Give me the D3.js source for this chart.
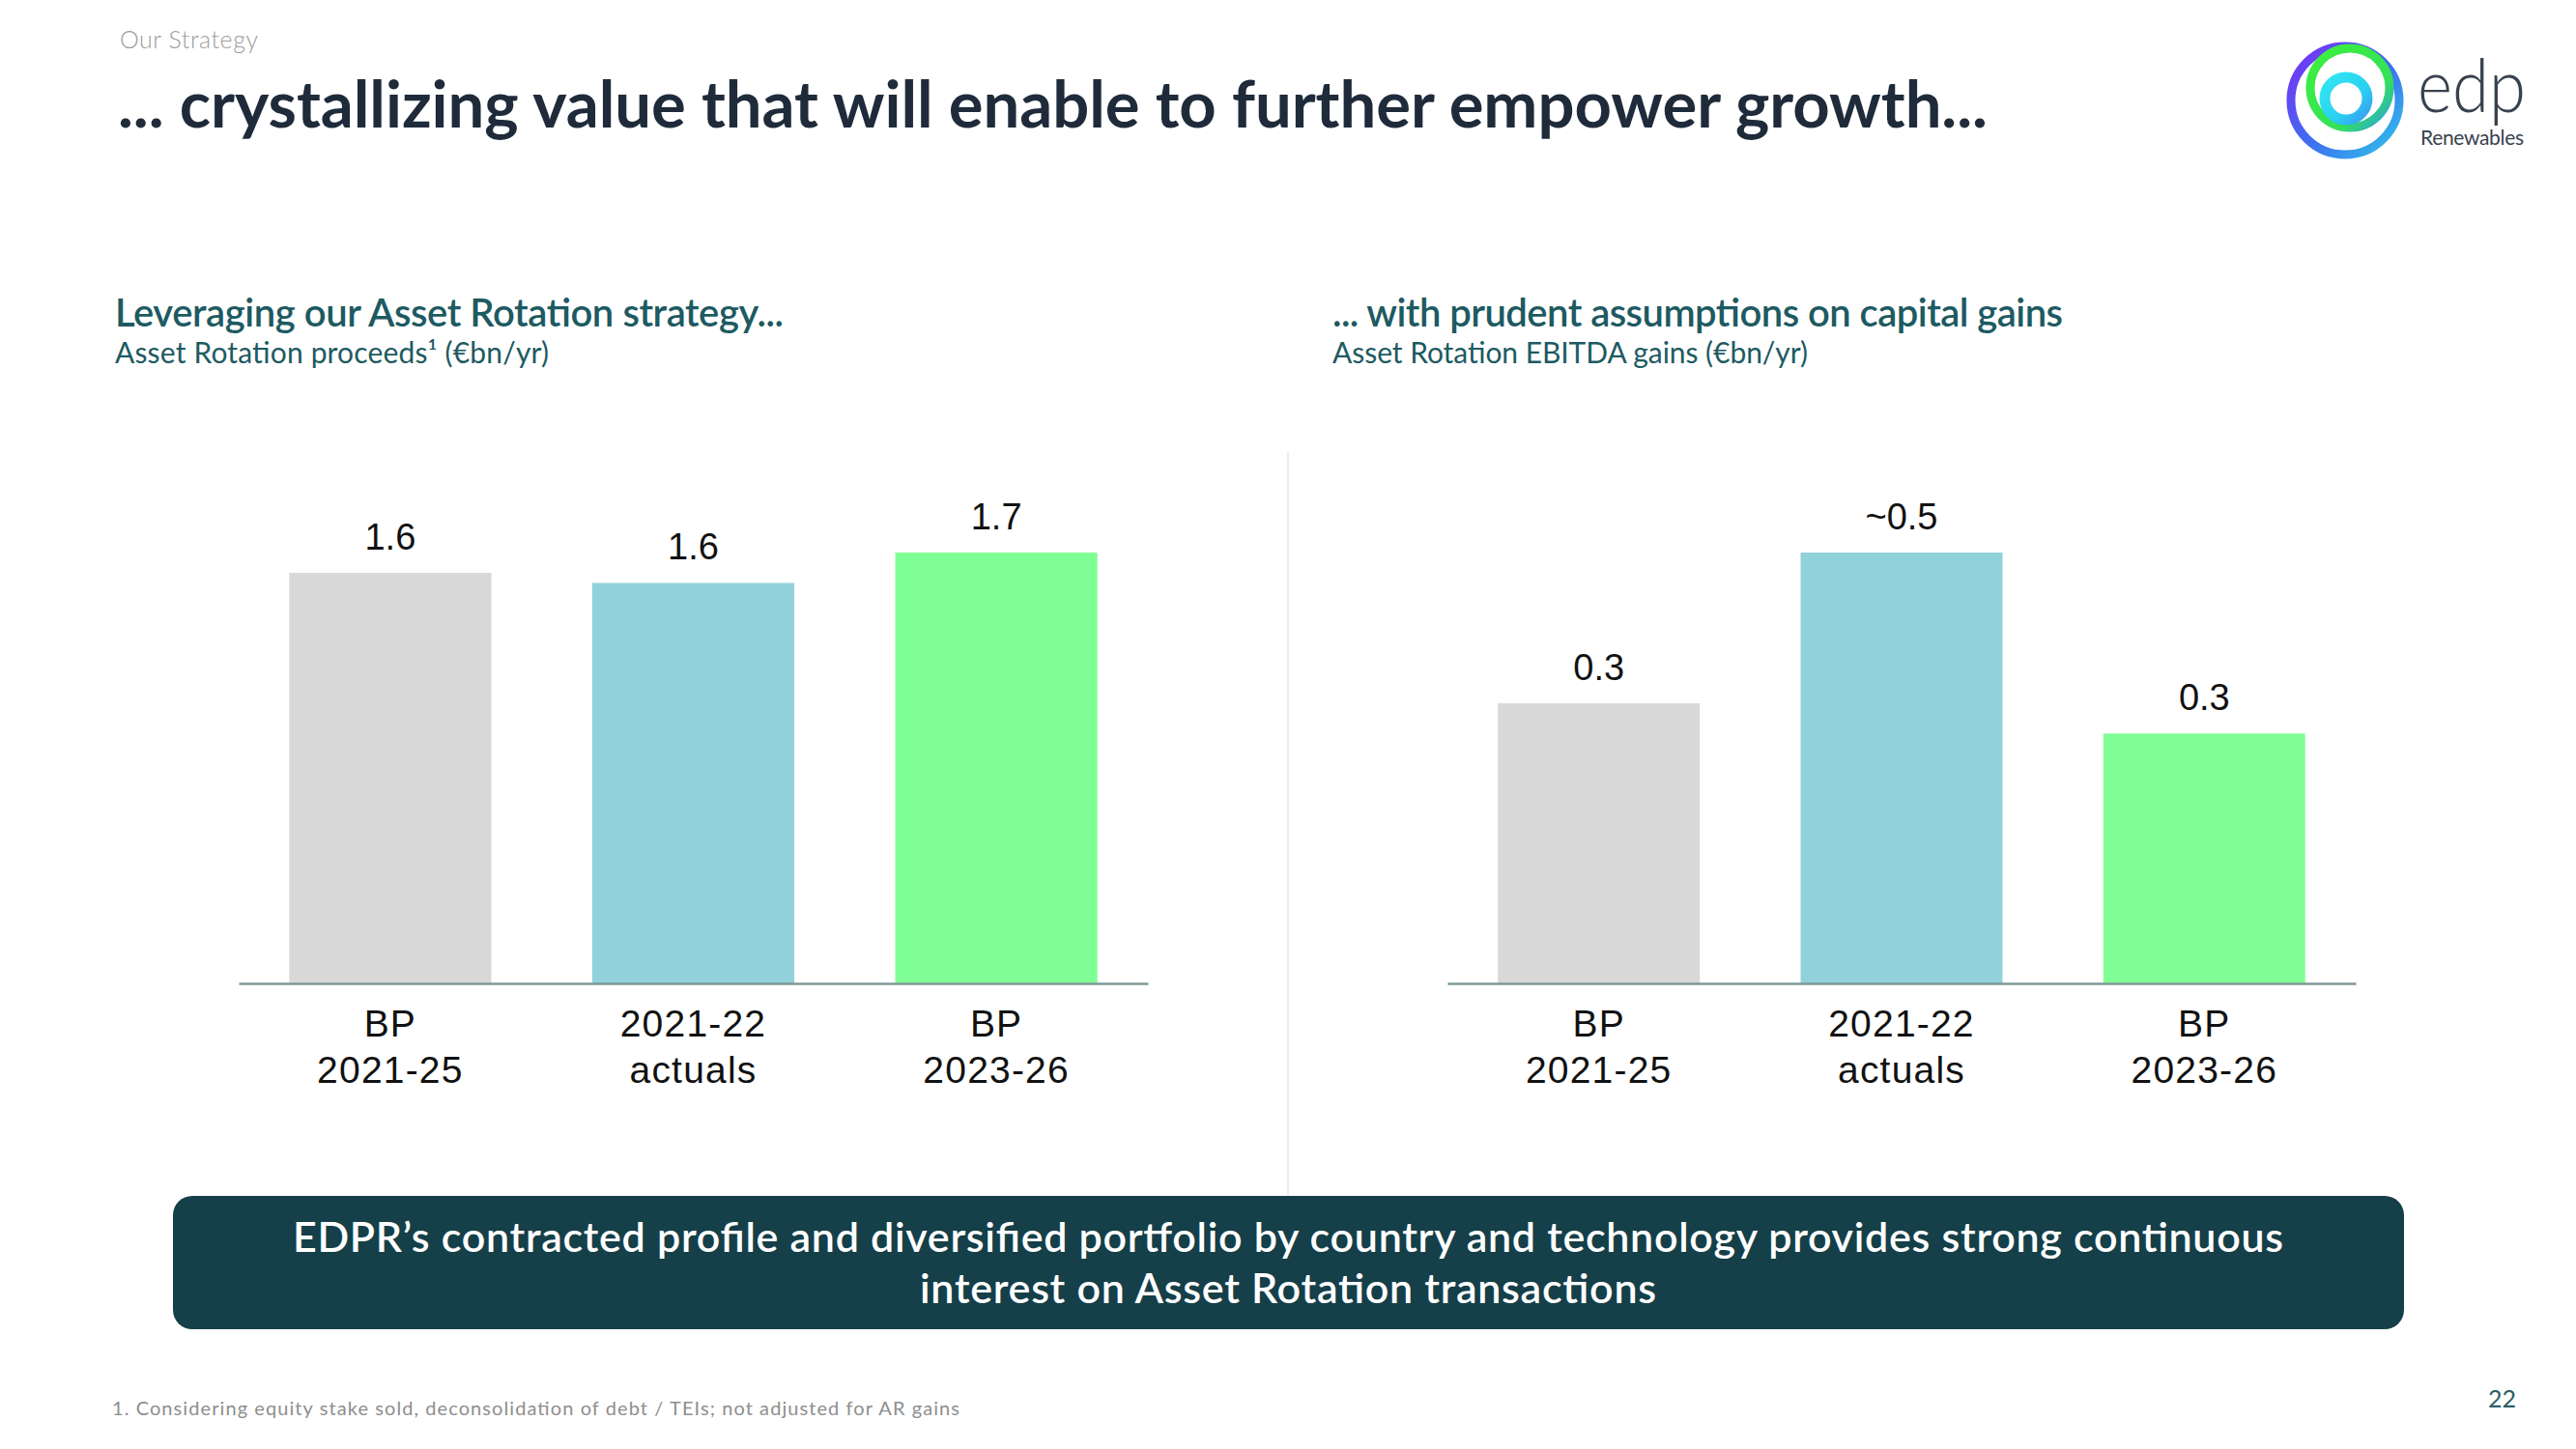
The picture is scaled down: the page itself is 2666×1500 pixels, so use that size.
<!DOCTYPE html>
<html>
<head>
<meta charset="utf-8">
<script src="https://cdn.jsdelivr.net/npm/d3@7"></script>
<style>
  html, body { margin: 0; padding: 0; background: #ffffff; }
  svg { display: block; }
</style>
</head>
<body>
<svg id="chart" width="2666" height="1500"></svg>
<script>
// ---------- DATA ----------
const categories = [["BP", "2021-25"], ["2021-22", "actuals"], ["BP", "2023-26"]];
const categoryKeys = ["bp2125", "actuals", "bp2326"];
const proceedsValues = [1.62, 1.58, 1.70];
const proceedsLabels = ["1.6", "1.6", "1.7"];
const gainsValues = [0.325, 0.50, 0.29];
const gainsLabels = ["0.3", "~0.5", "0.3"];
const barColors = ["#d8d8d8", "#91d1da", "#80ff96"];

const pageTitle = "... crystallizing value that will enable to further empower growth...";
const sectionLabel = "Our Strategy";
const leftHeading = "Leveraging our Asset Rotation strategy...";
const leftSub = "Asset Rotation proceeds\u00b9 (\u20acbn/yr)";
const rightHeading = "... with prudent assumptions on capital gains";
const rightSub = "Asset Rotation EBITDA gains (\u20acbn/yr)";
const bannerLines = [
  "EDPR\u2019s contracted profile and diversified portfolio by country and technology provides strong continuous",
  "interest on Asset Rotation transactions"
];
const footnote = "1. Considering equity stake sold, deconsolidation of debt / TEIs; not adjusted for AR gains";
const pageNumber = "22";

// ---------- DRAW ----------
const svg = d3.select("#chart");
const HEAD = "Lato, 'Noto Sans', sans-serif";
const NUM = "'Liberation Sans', Arial, sans-serif";

// header
svg.append("text").attr("x", 124).attr("y", 50)
  .attr("font-family", HEAD).attr("font-weight", 300).attr("font-size", 25)
  .attr("fill", "#9c9c9c").attr("textLength", 143).attr("lengthAdjust", "spacing")
  .text(sectionLabel);

svg.append("text").attr("x", 122).attr("y", 132)
  .attr("font-family", HEAD).attr("font-weight", 700).attr("font-size", 67)
  .attr("fill", "#1f2b3a").attr("textLength", 1935).attr("lengthAdjust", "spacing")
  .text(pageTitle);

// logo
const defs = svg.append("defs");
function grad(id, stops, x1, y1, x2, y2) {
  const g = defs.append("linearGradient").attr("id", id)
    .attr("x1", x1).attr("y1", y1).attr("x2", x2).attr("y2", y2);
  stops.forEach(s => g.append("stop").attr("offset", s[0]).attr("stop-color", s[1]));
}
grad("gOuter", [[0, "#7a2ff5"], [0.55, "#3d6ff0"], [1, "#2ec8e8"]], "0", "0", "1", "1");
grad("gGreen", [[0, "#3ef03c"], [0.7, "#33e05a"], [1, "#2a9cf0"]], "0", "0", "1", "1");
grad("gInner", [[0, "#30e8f0"], [0.6, "#2ad0f2"], [1, "#3a9cf0"]], "0", "0", "1", "1");
const logo = svg.append("g");
logo.append("circle").attr("cx", 2427).attr("cy", 104).attr("r", 56)
  .attr("fill", "none").attr("stroke", "url(#gOuter)").attr("stroke-width", 9);
logo.append("circle").attr("cx", 2432).attr("cy", 91).attr("r", 41)
  .attr("fill", "none").attr("stroke", "url(#gGreen)").attr("stroke-width", 9);
logo.append("circle").attr("cx", 2428).attr("cy", 102).attr("r", 22)
  .attr("fill", "none").attr("stroke", "url(#gInner)").attr("stroke-width", 11);
svg.append("text").attr("x", 2502).attr("y", 116)
  .attr("font-family", HEAD).attr("font-weight", 300).attr("font-size", 76)
  .attr("fill", "#38424e").attr("textLength", 112).attr("lengthAdjust", "spacingAndGlyphs")
  .text("edp");
svg.append("text").attr("x", 2505).attr("y", 150)
  .attr("font-family", HEAD).attr("font-weight", 400).attr("font-size", 21)
  .attr("fill", "#38424e").attr("textLength", 107).attr("lengthAdjust", "spacing")
  .text("Renewables");

// section headings
function heading(x, title, sub, tLen, sLen) {
  svg.append("text").attr("x", x).attr("y", 338)
    .attr("font-family", HEAD).attr("font-weight", 600).attr("font-size", 40)
    .attr("fill", "#1d5a62").attr("textLength", tLen).attr("lengthAdjust", "spacing")
    .text(title);
  svg.append("text").attr("x", x).attr("y", 376)
    .attr("font-family", HEAD).attr("font-weight", 400).attr("font-size", 30)
    .attr("fill", "#1d5a62").attr("textLength", sLen).attr("lengthAdjust", "spacing")
    .text(sub);
}
heading(119, leftHeading, leftSub, 692, 449);
heading(1379, rightHeading, rightSub, 756, 492);

// divider
svg.append("line").attr("x1", 1333).attr("x2", 1333).attr("y1", 468).attr("y2", 1238)
  .attr("stroke", "#e6e6e6").attr("stroke-width", 1.5);

// bar charts
const baseY = 1018, topY = 572;
function barChart(x0, x1, values, labels) {
  const x = d3.scaleBand().domain(categoryKeys).range([x0, x1])
    .paddingInner(0.333).paddingOuter(0.1667);
  const y = d3.scaleLinear().domain([0, d3.max(values)]).range([baseY, topY]);
  const g = svg.append("g");
  const data = categoryKeys.map((k, i) => ({ k, v: values[i], label: labels[i], color: barColors[i] }));
  g.selectAll("rect.bar").data(data).join("rect").attr("class", "bar")
    .attr("x", d => x(d.k)).attr("width", x.bandwidth())
    .attr("y", d => y(d.v)).attr("height", d => y(0) - y(d.v))
    .attr("fill", d => d.color);
  g.selectAll("text.val").data(data).join("text").attr("class", "val")
    .attr("x", d => x(d.k) + x.bandwidth() / 2).attr("y", d => y(d.v) - 24)
    .attr("text-anchor", "middle").attr("font-family", NUM).attr("font-size", 38)
    .attr("fill", "#111111").text(d => d.label);
  const axis = g.append("g").attr("transform", `translate(0,${baseY})`)
    .call(d3.axisBottom(x).tickSize(0).tickSizeOuter(0).tickFormat(() => ""));
  axis.select(".domain").attr("stroke", "#7f9999").attr("stroke-width", 2.5);
  axis.selectAll(".tick text").each(function (d, i) {
    const t = d3.select(this).attr("dy", null).attr("y", null)
      .attr("font-family", NUM).attr("font-size", 39).attr("letter-spacing", 1.2)
      .attr("fill", "#111111");
    t.text(null);
    categories[i].forEach((line, j) => {
      t.append("tspan").attr("x", 0).attr("y", 55 + j * 48).text(line);
    });
  });
}
barChart(247, 1188, proceedsValues, proceedsLabels);
barChart(1498, 2438, gainsValues, gainsLabels);

// banner
svg.append("rect").attr("x", 179).attr("y", 1238).attr("width", 2309).attr("height", 138)
  .attr("rx", 20).attr("fill", "#153f49");
const bannerLens = [2060, 762];
bannerLines.forEach((line, i) => {
  svg.append("text").attr("x", 1333).attr("y", 1296 + i * 53)
    .attr("text-anchor", "middle").attr("font-family", HEAD).attr("font-weight", 600)
    .attr("font-size", 43).attr("fill", "#ffffff")
    .attr("textLength", bannerLens[i]).attr("lengthAdjust", "spacing")
    .text(line);
});

// footer
svg.append("text").attr("x", 116).attr("y", 1465)
  .attr("font-family", HEAD).attr("font-weight", 400).attr("font-size", 20)
  .attr("fill", "#8e8e8e").attr("textLength", 877).attr("lengthAdjust", "spacing")
  .text(footnote);
svg.append("text").attr("x", 2575).attr("y", 1457)
  .attr("font-family", HEAD).attr("font-weight", 400).attr("font-size", 25)
  .attr("fill", "#2a5f66").text(pageNumber);
</script>
</body>
</html>
